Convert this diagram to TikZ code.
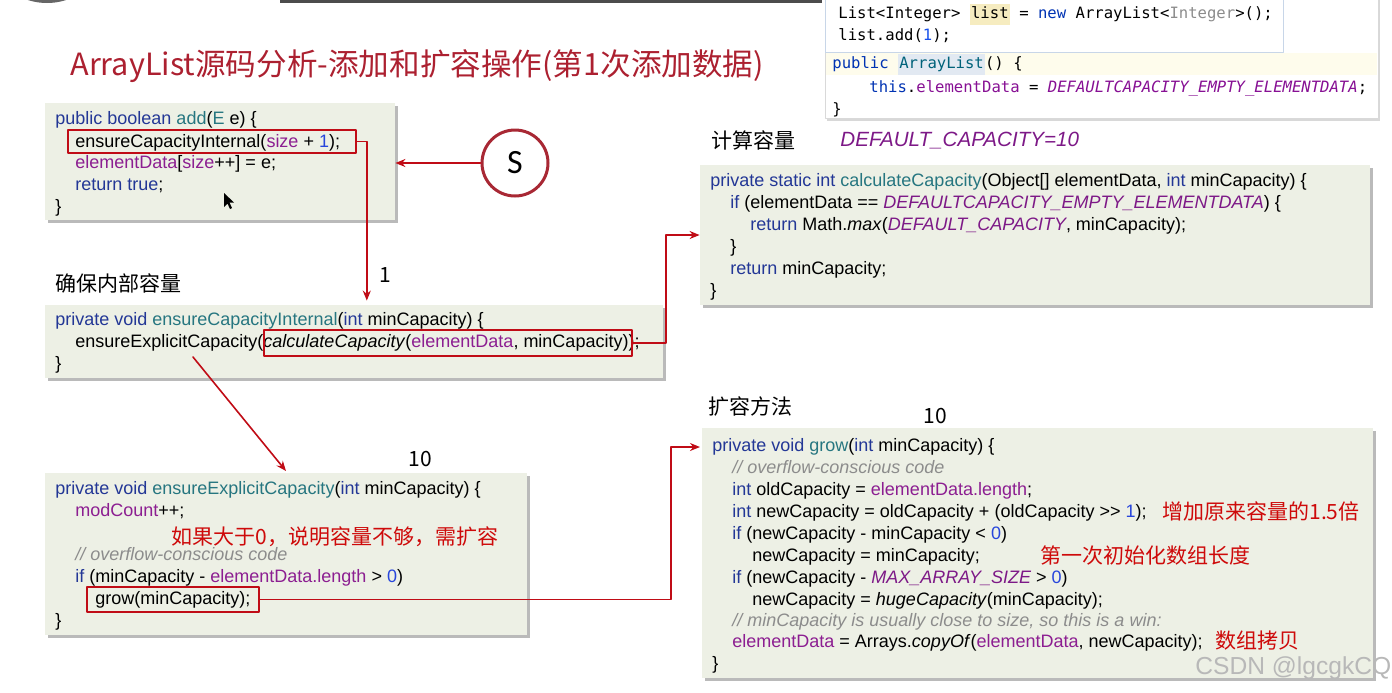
\documentclass[tikz,border=0pt]{standalone}
\usepackage{fontspec}
\setmainfont{Liberation Sans}
\newfontfamily\cjkfont{Noto Sans CJK SC}
\newfontfamily\idefont{DejaVu Sans Mono}
\newfontfamily\circfont{Carlito}
\usetikzlibrary{arrows.meta,fit,shadows}
\definecolor{boxbg}{RGB}{237,240,229}
\definecolor{titlered}{RGB}{172,32,48}
\definecolor{circred}{RGB}{168,40,52}
\definecolor{linkred}{RGB}{192,12,22}
\definecolor{notered}{RGB}{206,10,10}
\definecolor{kwdblue}{RGB}{35,55,150}
\definecolor{fncteal}{RGB}{38,118,128}
\definecolor{fldpurple}{RGB}{140,30,145}
\definecolor{nmbblue}{RGB}{40,70,220}
\definecolor{cmtgray}{RGB}{140,140,140}
\definecolor{cstpurple}{RGB}{125,25,135}
\definecolor{idekw}{HTML}{0033B3}
\definecolor{idefn}{HTML}{00627A}
\definecolor{idefld}{HTML}{871094}
\definecolor{idenum}{HTML}{1750EB}
\definecolor{idegray}{HTML}{8C8C8C}
\definecolor{idehl}{RGB}{226,233,242}
\definecolor{listyellow}{RGB}{246,236,192}
\definecolor{rowyellow}{RGB}{254,252,236}
\definecolor{popblue}{RGB}{200,214,232}
\newcommand{\kwd}[1]{\textcolor{kwdblue}{#1}}
\newcommand{\fnc}[1]{\textcolor{fncteal}{#1}}
\newcommand{\fld}[1]{\textcolor{fldpurple}{#1}}
\newcommand{\nmb}[1]{\textcolor{nmbblue}{#1}}
\newcommand{\cmt}[1]{\textcolor{cmtgray}{\itshape #1}}
\newcommand{\cst}[1]{\textcolor{cstpurple}{\itshape #1}}
\newcommand{\idebg}[2]{{\setlength{\fboxsep}{0.6pt}\colorbox{#1}{\strut #2}}}
\newcommand{\codesize}{\fontsize{9}{11}\selectfont}
\begin{document}
\begin{tikzpicture}[x=0.5pt,y=-0.5pt,line cap=round,line join=round,
  codebox/.style={fill=boxbg,inner sep=0pt,
    drop shadow={shadow xshift=1.6pt,shadow yshift=-1.6pt,fill=black!45,opacity=.6}},
  code/.style={anchor=base west,inner sep=0pt,font=\codesize},
  ide/.style={anchor=base west,inner sep=0pt,font=\idefont\fontsize{7.8}{9}\selectfont},
  hlbox/.style={draw=linkred,line width=0.8pt,inner sep=0pt},
  link/.style={draw=linkred,line width=0.8pt,-{Stealth[length=5pt,width=4pt]}},
  heading/.style={anchor=west,inner sep=0pt,font=\cjkfont\fontsize{10.5}{12}\selectfont},
  note/.style={anchor=west,inner sep=0pt,text=notered,font=\cjkfont\fontsize{10.5}{12}\selectfont},
  count/.style={inner sep=0pt,font=\cjkfont\fontsize{10.5}{12}\selectfont}]
\useasboundingbox (0,0) rectangle (1392,692);
\clip (0,0) rectangle (1392,692);
\fill[black!60] (47,-59) circle (62);
\fill[black!70] (280,0) rectangle (822,3);

% title
\node[anchor=west,inner sep=0pt,text=titlered,font=\cjkfont\fontsize{15.3}{18}\selectfont] (title) at (70,66) {ArrayList源码分析-添加和扩容操作(第1次添加数据)};

% IDE tooltip
\node[fit={(825,-4) (1378,118)},fill=white,draw=black!15,inner sep=0pt,
  drop shadow={shadow xshift=1pt,shadow yshift=-1.5pt,fill=black!30,opacity=.5}] (panel) {};
\fill[rowyellow] (826,53) rectangle (1377,75);
\node[fit={(825,-4) (1283,52)},fill=white,draw=popblue,inner sep=0pt] (popup) {};
\node[ide] (p1) at (838,18) {List<Integer> \idebg{listyellow}{list} = \textcolor{idekw}{new} ArrayList<\textcolor{idegray}{Integer}>();};
\node[ide] (p2) at (838,40) {list.add(\textcolor{idenum}{1});};
\node[ide] (p3) at (832,68) {\textcolor{idekw}{public} \idebg{idehl}{\textcolor{idefn}{ArrayList}}() \{};
\node[ide] (p4) at (869,92) {\textcolor{idekw}{this}.\textcolor{idefld}{elementData} = \textcolor{idefld}{\itshape DEFAULTCAPACITY\_EMPTY\_ELEMENTDATA};};
\node[ide] (p5) at (832,114) {\}};

% add
\node[codebox,fit={(45,103) (395,220)}] (boxAdd) {};
\node[code] (a1) at (55,124) {\kwd{public boolean} \fnc{add}(\fnc{E} e) \{};
\node[code] (a2) at (75,147) {ensureCapacityInternal(\fld{size} + \nmb{1});};
\node[code] (a3) at (75,168) {\fld{elementData}[\fld{size}++] = e;};
\node[code] (a4) at (75,190) {\kwd{return true};};
\node[code] (a5) at (55,212) {\}};
\node[hlbox,fit={(68,130) (356,153)}] (hlAdd) {};
\fill[black] (224,193) -- (224,207) -- (227.5,203.5) -- (230,209) -- (232,208) -- (229.5,202.5) -- (234,202.5) -- cycle;

\node[circle,draw=circred,line width=1.5pt,fill=white,minimum size=33pt,inner sep=0pt,
  font=\circfont\fontsize{17}{20}\selectfont] (sCircle) at (515,163) {S};

% ensureCapacityInternal
\node[heading] (hInt) at (55,283) {确保内部容量};
\node[codebox,fit={(45,305) (663,378)}] (boxInt) {};
\node[code] (b1) at (55,325) {\kwd{private void} \fnc{ensureCapacityInternal}(\kwd{int} minCapacity) \{};
\node[code] (b2) at (75,347) {ensureExplicitCapacity(\textit{calculateCapacity}(\fld{elementData}, minCapacity));};
\node[code] (b3) at (55,369) {\}};
\node[hlbox,fit={(264,330) (632,356)}] (hlCalc) {};

% calculateCapacity
\node[heading] (hCalc) at (711,140) {计算容量};
\node[anchor=west,inner sep=0pt,text=cstpurple,font=\itshape\fontsize{10.3}{12}\selectfont] (defCap) at (840,141) {DEFAULT\_CAPACITY=10};
\node[codebox,fit={(700,165) (1370,305)}] (boxCalc) {};
\node[code] (c1) at (710,186) {\kwd{private static int} \fnc{calculateCapacity}(Object[] elementData, \kwd{int} minCapacity) \{};
\node[code] (c2) at (730,208) {\kwd{if} (elementData == \cst{DEFAULTCAPACITY\_EMPTY\_ELEMENTDATA}) \{};
\node[code] (c3) at (750,230) {\kwd{return} Math.\textit{max}(\cst{DEFAULT\_CAPACITY}, minCapacity);};
\node[code] (c4) at (730,252) {\}};
\node[code] (c5) at (730,274) {\kwd{return} minCapacity;};
\node[code] (c6) at (710,296) {\}};

% ensureExplicitCapacity
\node[count] (n10a) at (420,459) {10};
\node[codebox,fit={(45,473) (527,635)}] (boxExp) {};
\node[code] (d1) at (55,494) {\kwd{private void} \fnc{ensureExplicitCapacity}(\kwd{int} minCapacity) \{};
\node[code] (d2) at (75,516) {\fld{modCount}++;};
\node[note] (noteExp) at (171,537) {如果大于0，说明容量不够，需扩容};
\node[code] (d3) at (75,560) {\cmt{// overflow-conscious code}};
\node[code] (d4) at (75,582) {\kwd{if} (minCapacity - \fld{elementData.length} > \nmb{0})};
\node[code] (d5) at (95,604) {grow(minCapacity);};
\node[code] (d6) at (55,626) {\}};
\node[hlbox,fit={(87,587) (259,612)}] (hlGrow) {};

% grow
\node[heading] (hGrow) at (708,406) {扩容方法};
\node[count] (n10b) at (935,416) {10};
\node[codebox,fit={(702,428) (1373,678)}] (boxGrow) {};
\node[code] (g1) at (712,451) {\kwd{private void} \fnc{grow}(\kwd{int} minCapacity) \{};
\node[code] (g2) at (732,473) {\cmt{// overflow-conscious code}};
\node[code] (g3) at (732,495) {\kwd{int} oldCapacity = \fld{elementData.length};};
\node[code] (g4) at (732,517) {\kwd{int} newCapacity = oldCapacity + (oldCapacity >{}> \nmb{1});};
\node[code] (g5) at (732,539) {\kwd{if} (newCapacity - minCapacity < \nmb{0})};
\node[code] (g6) at (752,561) {newCapacity = minCapacity;};
\node[code] (g7) at (732,583) {\kwd{if} (newCapacity - \cst{MAX\_ARRAY\_SIZE} > \nmb{0})};
\node[code] (g8) at (752,605) {newCapacity = \textit{hugeCapacity}(minCapacity);};
\node[code] (g9) at (732,626) {\cmt{// minCapacity is usually close to size, so this is a win:}};
\node[code] (g10) at (732,647) {\fld{elementData} = Arrays.\textit{copyOf}(\fld{elementData}, newCapacity);};
\node[code] (g11) at (712,669) {\}};
\node[note] (noteGrow) at (1162,511) {增加原来容量的1.5倍};
\node[note] (noteInit) at (1040,555) {第一次初始化数组长度};
\node[note] (noteCopy) at (1215,641) {数组拷贝};

% arrows
\coordinate (diagStart) at (193,357);
\coordinate (expIn) at (286,471);
\coordinate (growIn) at (700,447);
\node[count] (n1) at (385,275) {1};
\draw[link] (sCircle.west) -- (sCircle.west -| boxAdd.east);
\draw[link,shorten >=2pt] (hlAdd.east) -- ++(10,0) coordinate (turnA) -- (turnA |- boxInt.north);
\draw[link] (hlCalc.east) -- ++(33,0) |- (boxCalc.west);
\draw[link] (diagStart) -- (expIn);
\draw[link] (hlGrow.east) -- ++(411,0) |- (growIn);

\node[anchor=west,inner sep=0pt,text=black!28,font=\fontsize{12.3}{14}\selectfont] (wmark) at (1195,668) {CSDN @lgcgkCQ};
\end{tikzpicture}
\end{document}
